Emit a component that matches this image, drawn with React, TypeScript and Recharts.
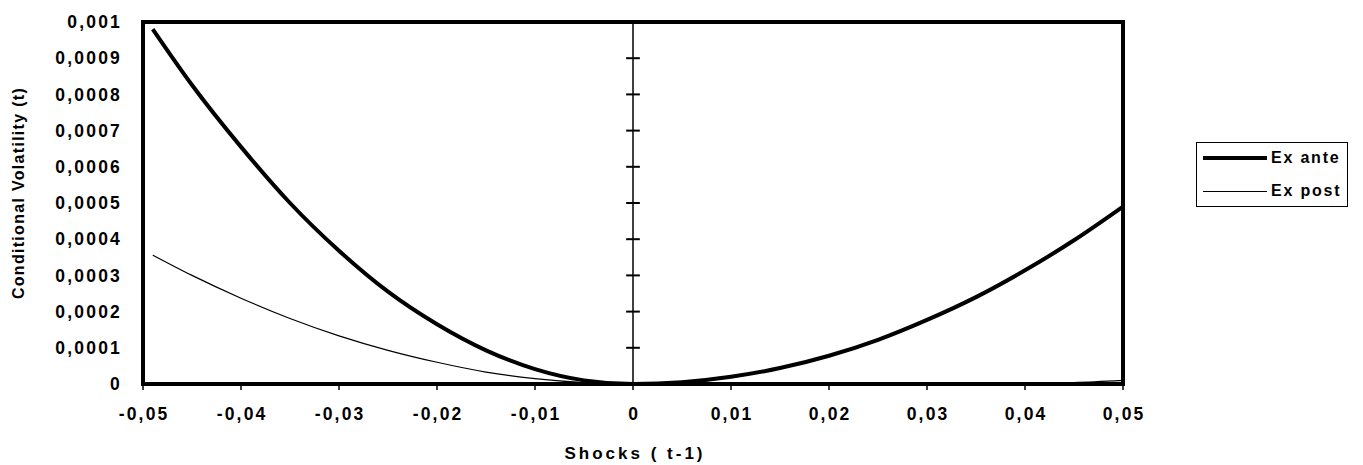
import {
  LineChart,
  Line,
  XAxis,
  YAxis,
  ReferenceArea,
  ReferenceLine,
} from 'recharts'

const shocks = [
  -0.049, -0.045, -0.04, -0.035, -0.03, -0.025, -0.02, -0.015, -0.01, -0.005, 0,
  0.005, 0.01, 0.015, 0.02, 0.025, 0.03, 0.035, 0.04, 0.045, 0.05,
]
const exAnte = [
  0.00098, 0.000826, 0.000655, 0.0005, 0.000368, 0.000255, 0.000165, 0.000093, 0.000041,
  0.00001, 0, 0.000005, 0.00002, 0.000044, 0.000078, 0.000122, 0.000177, 0.00024,
  0.000314, 0.000397, 0.00049,
]
const exPost = [
  0.000356, 0.0003, 0.000237, 0.000181, 0.000133, 0.000093, 0.00006, 0.000033, 0.000015,
  0.000004, 0, 0, 0, 0, 0, 0, 0, 0.000001, 0.000002, 0.000004, 0.00001,
]
const xTicks = [-0.05, -0.04, -0.03, -0.02, -0.01, 0, 0.01, 0.02, 0.03, 0.04, 0.05]
const yTicks = [
  0, 0.0001, 0.0002, 0.0003, 0.0004, 0.0005, 0.0006, 0.0007, 0.0008, 0.0009, 0.001,
]
const seriesNames = ['Ex ante', 'Ex post']

const data = shocks.map((x, i) => ({ x, exAnte: exAnte[i], exPost: exPost[i] }))

const FONT = '"Liberation Sans", Arial, sans-serif'
const fmt = (v: number) => String(v).replace('.', ',')

const tickStyle = {
  fill: '#000',
  fontSize: 17.5,
  fontWeight: 700,
  fontFamily: FONT,
  letterSpacing: 2.2,
}

const App = () => {
  return (
    <div style={{ position: 'absolute', left: 0, top: 0, width: 1363, height: 465, background: '#fff' }}>
      <LineChart
        width={1363}
        height={465}
        data={data}
        margin={{ top: 22, right: 240, left: 0, bottom: 0 }}
      >
        <XAxis
          dataKey="x"
          type="number"
          domain={[-0.05, 0.05]}
          ticks={xTicks}
          tickFormatter={fmt}
          height={81}
          axisLine={false}
          tickLine={{ stroke: '#000', strokeWidth: 1.5 }}
          tickSize={6}
          tickMargin={18}
          tick={{ ...tickStyle, dx: 1.1 }}
          label={() => (
            <text
              x={635}
              y={459}
              textAnchor="middle"
              fontFamily={FONT}
              fontWeight={700}
              fontSize={17}
              letterSpacing={3}
              fill="#000"
            >
              Shocks ( t-1)
            </text>
          )}
        />
        <YAxis
          type="number"
          domain={[0, 0.001]}
          ticks={yTicks}
          tickFormatter={fmt}
          width={143}
          axisLine={false}
          tickLine={false}
          tickSize={6}
          tickMargin={15}
          tick={tickStyle}
          label={() => (
            <text
              x={24}
              y={193}
              transform="rotate(-90 24 193)"
              textAnchor="middle"
              fontFamily={FONT}
              fontWeight={700}
              fontSize={16}
              letterSpacing={1.3}
              fill="#000"
            >
              Conditional Volatility (t)
            </text>
          )}
        />
        <ReferenceLine x={0} stroke="#000" strokeWidth={1.5} />
        {yTicks.slice(1, -1).map((v) => (
          <ReferenceLine
            key={v}
            segment={[
              { x: -0.0007, y: v },
              { x: 0.0007, y: v },
            ]}
            stroke="#000"
            strokeWidth={2}
          />
        ))}
        <Line
          type="monotone"
          dataKey="exPost"
          name={seriesNames[1]}
          stroke="#000"
          strokeWidth={1.2}
          dot={false}
          isAnimationActive={false}
        />
        <Line
          type="monotone"
          dataKey="exAnte"
          name={seriesNames[0]}
          stroke="#000"
          strokeWidth={4}
          dot={false}
          isAnimationActive={false}
        />
        <ReferenceArea
          x1={-0.05}
          x2={0.05}
          y1={0}
          y2={0.001}
          fill="none"
          fillOpacity={0}
          stroke="#000"
          strokeWidth={4}
        />
      </LineChart>
      <div
        style={{
          position: 'absolute',
          left: 1196,
          top: 142,
          width: 152,
          height: 65,
          border: '1px solid #000',
          boxSizing: 'border-box',
          fontFamily: FONT,
          fontWeight: 700,
          fontSize: 16,
          letterSpacing: 1.8,
          color: '#000',
        }}
      >
        {seriesNames.map((name, i) => (
          <div
            key={name}
            style={{
              position: 'absolute',
              left: 6,
              top: i === 0 ? 5 : 38,
              height: 20,
              display: 'flex',
              alignItems: 'center',
              whiteSpace: 'nowrap',
            }}
          >
            <div style={{ width: 64, height: i === 0 ? 4 : 1, background: '#000', marginRight: 4 }} />
            <span>{name}</span>
          </div>
        ))}
      </div>
    </div>
  )
}

export default App
